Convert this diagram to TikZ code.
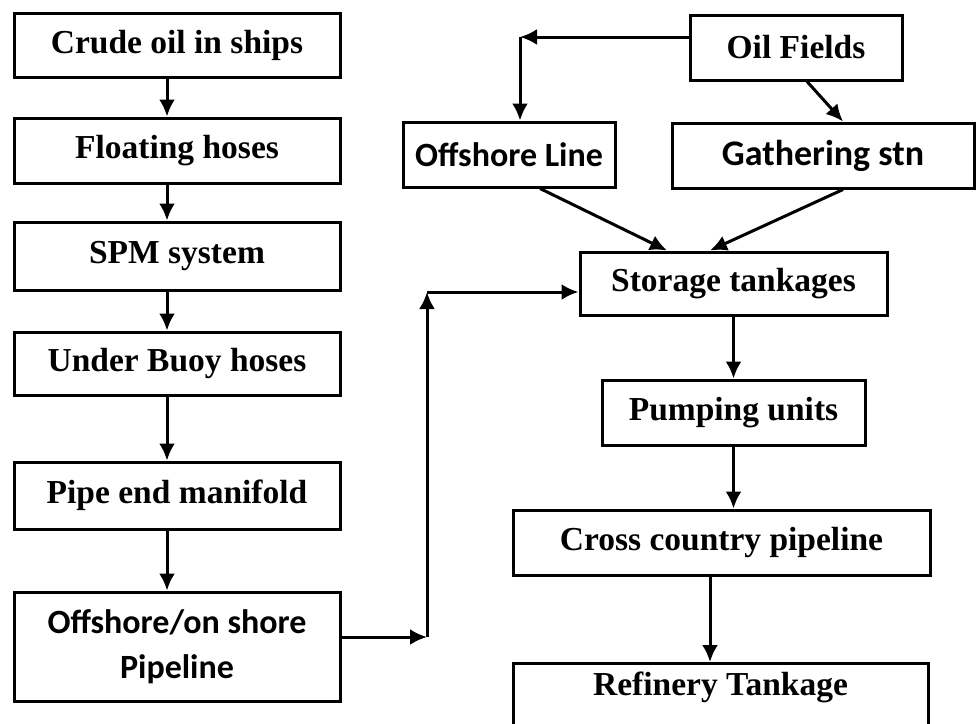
\documentclass[tikz,border=0pt]{standalone}
\usepackage{fontspec}
\setmainfont{Liberation Serif}
\newfontfamily\calibri{Carlito}
\usetikzlibrary{arrows.meta,positioning,calc}
\definecolor{ink}{HTML}{000000}
\tikzset{
  box/.style={draw=ink, line width=3pt, fill=white, align=center, inner sep=0pt, font=\fontsize{33.5}{40}\selectfont\bfseries},
  sansbox/.style={box, font=\fontsize{34}{45}\selectfont\calibri\bfseries},
  arrow/.style={-{Latex[length=17pt,width=16pt]}, line width=3pt, draw=ink}
}

\begin{document}
\begin{tikzpicture}[x=1pt,y=-1pt]
\useasboundingbox (0,0) rectangle (976,723);
% left column: from the tanker to the shore
\node[box, minimum width=326, minimum height=64] (crude) at (177,45) {Crude oil in ships};
\node[box, minimum width=326, minimum height=65] (float) at (177,150.5) {Floating hoses};
\node[box, minimum width=326, minimum height=68] (spm) at (177,256) {SPM system};
\node[box, minimum width=326, minimum height=63] (buoy) at (177,363.5) {Under Buoy hoses};
\node[box, minimum width=326, minimum height=67] (pipe) at (177,495.5) {Pipe end manifold};
\node[sansbox, minimum width=326, minimum height=109] (shore) at (177,646.5) {Offshore/on shore\\Pipeline};
\foreach \a/\b in {crude/float, float/spm, spm/buoy, buoy/pipe, pipe/shore}
  \draw[arrow] ([xshift=-10pt]\a.south) -- ([xshift=-10pt]\b.north);
% right column: from the fields to the refinery
\node[box, minimum width=212, minimum height=65] (oil) at (796,47.5) {Oil Fields};
\node[sansbox, minimum width=212, minimum height=65] (offl) at (509,154.5) {Offshore Line};
\node[sansbox, minimum width=302, minimum height=65, font=\fontsize{36}{45}\selectfont\calibri\bfseries] (gath) at (823,155.5) {Gathering stn};
\node[box, minimum width=307, minimum height=63] (store) at (733.5,283.5) {Storage tankages};
\node[box, minimum width=263, minimum height=65] (pump) at (733.5,412.5) {Pumping units};
\node[box, minimum width=417, minimum height=65] (cross) at (721.5,542.5) {Cross country pipeline};
\node[box, anchor=north, minimum width=415, text height=22pt, text depth=60pt, inner ysep=10pt] (refin) at (720.5,662) {Refinery Tankage};
\coordinate (fork) at (520,37);
\coordinate (turn) at (427,637);
\coordinate (bend) at (427,292);
\draw[arrow] (oil.west |- fork) -- (fork);
\draw[arrow] (fork) -- (fork |- offl.north);
\draw[arrow] ([xshift=11pt]oil.south) -- ([xshift=20pt]gath.north);
\draw[arrow] ([xshift=31pt]offl.south) -- ([xshift=-66.5pt]store.north);
\draw[arrow] ([xshift=20pt]gath.south) -- ([xshift=-23.5pt]store.north);
% crude from the shore joins the storage
\draw[arrow] (shore.east |- turn) -- (turn);
\draw[arrow] (turn) -- (bend);
\draw[arrow] (bend) -- (bend -| store.west);
\draw[arrow] (store.south) -- (pump.north);
\draw[arrow] (pump.south) -- (pump.south |- cross.north);
\draw[arrow] ([xshift=-11.5pt]cross.south) -- ([xshift=-11.5pt]cross.south |- refin.north);
\end{tikzpicture}
\end{document}
